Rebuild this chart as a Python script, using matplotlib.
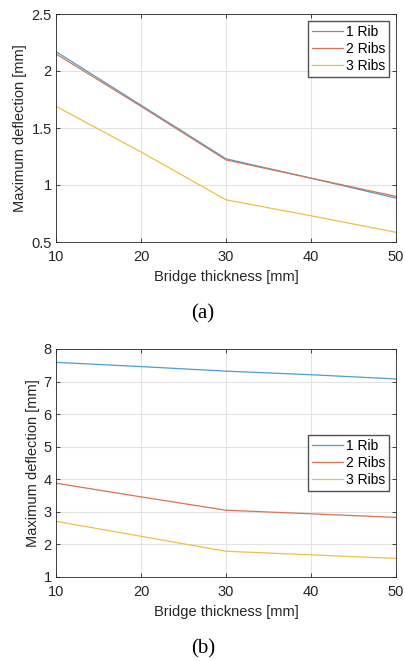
import matplotlib.pyplot as plt

plt.rcParams["font.family"] = ["Liberation Sans", "DejaVu Sans"]

thickness = [10, 20, 30, 40, 50]

# (a)
a_1rib = [2.17, 1.70, 1.23, 1.06, 0.885]
a_2ribs = [2.15, 1.69, 1.22, 1.06, 0.90]
a_3ribs = [1.69, 1.29, 0.87, 0.73, 0.585]

# (b)
b_1rib = [7.59, 7.46, 7.32, 7.21, 7.08]
b_2ribs = [3.88, 3.46, 3.05, 2.94, 2.83]
b_3ribs = [2.71, 2.25, 1.79, 1.68, 1.57]

labels = ["1 Rib", "2 Ribs", "3 Ribs"]
colors = ["#4a9fcf", "#d9734f", "#eebf45"]

fig = plt.figure(figsize=(4.06, 6.61), dpi=100)
ax_a = fig.add_axes([56 / 406, 1 - 242 / 661, 340 / 406, 228 / 661])
ax_b = fig.add_axes([56 / 406, 1 - 577 / 661, 340 / 406, 228 / 661])


def style(ax, ylim, yticks, yticklabels):
    ax.set_xlim(10, 50)
    ax.set_ylim(*ylim)
    ax.set_xticks(thickness)
    ax.set_yticks(yticks)
    ax.set_yticklabels(yticklabels)
    ax.grid(True, color="#e3e3e3", linewidth=0.8)
    ax.set_axisbelow(True)
    ax.tick_params(direction="in", top=True, right=True, length=3,
                   labelsize=10.5, colors="#262626", width=0.6)
    ax.tick_params(axis="x", pad=6)
    ax.tick_params(axis="y", pad=3)
    for s in ax.spines.values():
        s.set_color("#262626")
        s.set_linewidth(0.6)
    ax.set_xlabel("Bridge thickness [mm]", fontsize=10.5, color="#262626", labelpad=4)
    ax.set_ylabel("Maximum deflection [mm]", fontsize=10.5, color="#262626", labelpad=3)


for ys, lab, c in zip([a_1rib, a_2ribs, a_3ribs], labels, colors):
    ax_a.plot(thickness, ys, color=c, linewidth=0.9, label=lab)
style(ax_a, (0.5, 2.5), [0.5, 1, 1.5, 2, 2.5], ["0.5", "1", "1.5", "2", "2.5"])
ax_a.legend(loc="upper right", fontsize=10, frameon=True, fancybox=False,
            edgecolor="#262626", handlelength=2.2, handletextpad=0.2,
            borderpad=0.3, labelspacing=0.2, borderaxespad=0.5)

for ys, lab, c in zip([b_1rib, b_2ribs, b_3ribs], labels, colors):
    ax_b.plot(thickness, ys, color=c, linewidth=0.9, label=lab)
style(ax_b, (1, 8), [1, 2, 3, 4, 5, 6, 7, 8], [str(v) for v in range(1, 9)])
ax_b.legend(loc="center right", fontsize=10, frameon=True, fancybox=False,
            edgecolor="#262626", handlelength=2.2, handletextpad=0.2,
            borderpad=0.3, labelspacing=0.2, borderaxespad=0.5)

fig.text(203 / 406, 1 - 314 / 661, "(a)", ha="center", va="center",
         fontsize=15, family="Liberation Serif")
fig.text(203 / 406, 1 - 649 / 661, "(b)", ha="center", va="center",
         fontsize=15, family="Liberation Serif")

fig.savefig("out.png", dpi=100, facecolor="white")
